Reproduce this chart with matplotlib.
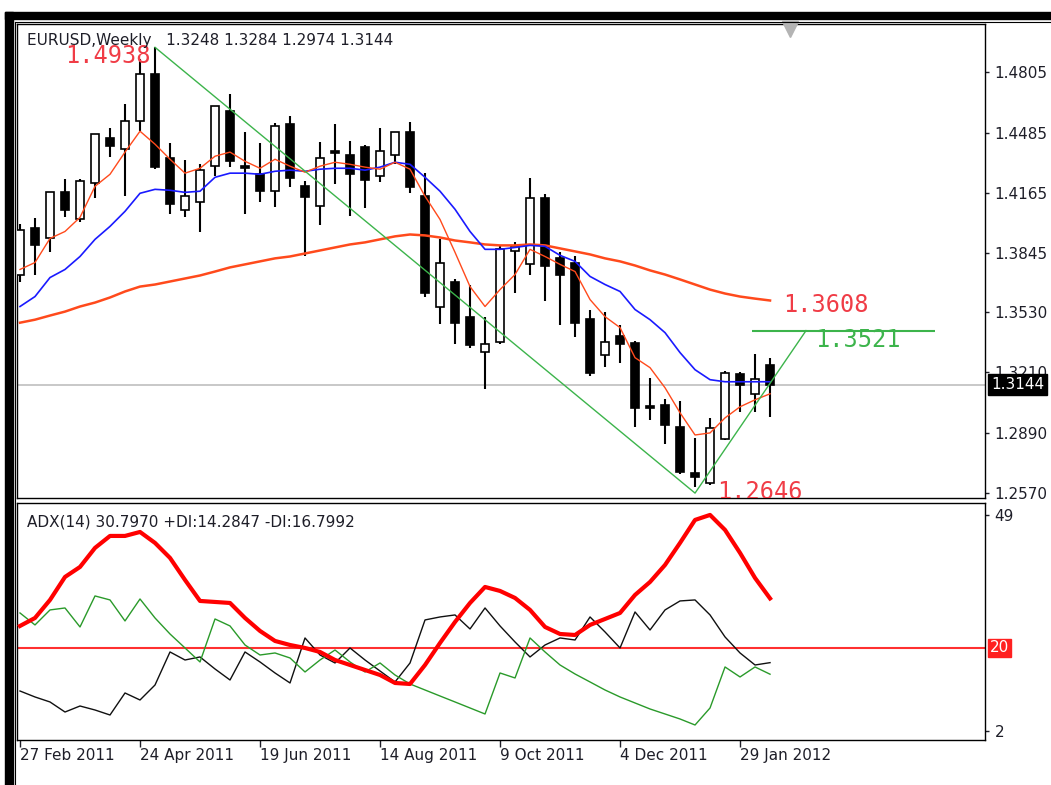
import matplotlib
matplotlib.use('Agg')
import matplotlib.pyplot as plt
import matplotlib.transforms as mtransforms
from matplotlib.patches import Rectangle
from matplotlib.lines import Line2D
import numpy as np

# EURUSD weekly bars, first bar = week of 27 Feb 2011
opens = [1.3725, 1.3975, 1.3922, 1.4167, 1.4023, 1.4215, 1.4455, 1.4397, 1.4546, 1.4796,
         1.4348, 1.4071, 1.4114, 1.4306, 1.4599, 1.4306, 1.4263, 1.4173, 1.4530, 1.4199,
         1.4093, 1.4386, 1.4365, 1.4407, 1.4253, 1.4365, 1.4487, 1.4146, 1.3560, 1.3693,
         1.3506, 1.3320, 1.3373, 1.3853, 1.3784, 1.4135, 1.3816, 1.3794, 1.3496, 1.3304,
         1.3405, 1.3368, 1.3032, 1.3037, 1.2920, 1.2675, 1.2622, 1.2856, 1.3203, 1.3096,
         1.3248]
highs = [1.3997, 1.4029, 1.4167, 1.4237, 1.4237, 1.4476, 1.4508, 1.4636, 1.4876, 1.4938,
         1.4428, 1.4338, 1.4316, 1.4626, 1.4690, 1.4487, 1.4428, 1.4535, 1.4572, 1.4226,
         1.4434, 1.4530, 1.4439, 1.4418, 1.4508, 1.4487, 1.4540, 1.4269, 1.3917, 1.3704,
         1.3677, 1.3506, 1.3880, 1.3901, 1.4242, 1.4157, 1.3848, 1.3826, 1.3544, 1.3533,
         1.3464, 1.3378, 1.3181, 1.3069, 1.3059, 1.2862, 1.2968, 1.3219, 1.3213, 1.3309,
         1.3284]
lows = [1.3693, 1.3730, 1.3848, 1.4034, 1.4007, 1.4135, 1.4354, 1.4146, 1.4492, 1.4290,
        1.4050, 1.4034, 1.3954, 1.4253, 1.4301, 1.4050, 1.4114, 1.4087, 1.4194, 1.3826,
        1.3991, 1.4210, 1.4039, 1.4082, 1.4221, 1.4316, 1.4162, 1.3613, 1.3469, 1.3362,
        1.3341, 1.3123, 1.3362, 1.3634, 1.3725, 1.3592, 1.3464, 1.3400, 1.3192, 1.3240,
        1.3261, 1.2920, 1.2957, 1.2829, 1.2670, 1.2600, 1.2611, 1.2851, 1.3000, 1.3000,
        1.2974]
closes = [1.3965, 1.3885, 1.4167, 1.4071, 1.4226, 1.4476, 1.4412, 1.4546, 1.4796, 1.4301,
          1.4103, 1.4146, 1.4285, 1.4626, 1.4332, 1.4295, 1.4173, 1.4519, 1.4242, 1.4141,
          1.4348, 1.4375, 1.4263, 1.4231, 1.4386, 1.4487, 1.4194, 1.3634, 1.3789, 1.3474,
          1.3357, 1.3362, 1.3864, 1.3880, 1.4135, 1.3773, 1.3730, 1.3474, 1.3208, 1.3373,
          1.3362, 1.3021, 1.3021, 1.2931, 1.2680, 1.2654, 1.2915, 1.3208, 1.3144, 1.3176,
          1.3144]

# moving averages (fast / medium / slow)
ma_fast = [1.3757, 1.3794, 1.3922, 1.3959, 1.4034, 1.4199, 1.4263, 1.4381, 1.4492, 1.4423,
           1.4343, 1.4269, 1.4295, 1.4359, 1.4381, 1.4332, 1.4295, 1.4343, 1.4306, 1.4274,
           1.4306, 1.4327, 1.4316, 1.4301, 1.4290, 1.4327, 1.4290, 1.4146, 1.4023, 1.3848,
           1.3666, 1.3560, 1.3650, 1.3730, 1.3864, 1.3826, 1.3784, 1.3746, 1.3597, 1.3506,
           1.3448, 1.3288, 1.3235, 1.3128, 1.2995, 1.2877, 1.2888, 1.2968, 1.3027, 1.3064,
           1.3096]
ma_mid = [1.3560, 1.3613, 1.3714, 1.3757, 1.3826, 1.3917, 1.3986, 1.4066, 1.4162, 1.4183,
          1.4178, 1.4167, 1.4173, 1.4247, 1.4269, 1.4269, 1.4263, 1.4279, 1.4285, 1.4279,
          1.4290, 1.4295, 1.4295, 1.4285, 1.4301, 1.4327, 1.4316, 1.4247, 1.4173, 1.4077,
          1.3959, 1.3864, 1.3864, 1.3874, 1.3885, 1.3880, 1.3832, 1.3800, 1.3720, 1.3677,
          1.3640, 1.3544, 1.3490, 1.3421, 1.3315, 1.3224, 1.3171, 1.3160, 1.3160, 1.3160,
          1.3160]
ma_slow = [1.3474, 1.3490, 1.3512, 1.3533, 1.3560, 1.3581, 1.3608, 1.3640, 1.3666, 1.3677,
           1.3693, 1.3709, 1.3725, 1.3746, 1.3768, 1.3784, 1.3800, 1.3816, 1.3826, 1.3842,
           1.3858, 1.3874, 1.3890, 1.3901, 1.3917, 1.3933, 1.3943, 1.3938, 1.3927, 1.3911,
           1.3901, 1.3890, 1.3885, 1.3885, 1.3890, 1.3885, 1.3869, 1.3853, 1.3837, 1.3816,
           1.3800, 1.3778, 1.3752, 1.3730, 1.3704, 1.3677, 1.3650, 1.3629, 1.3613, 1.3602,
           1.3592]

# ADX(14)
adx_main = [24.80, 26.54, 30.47, 35.48, 37.66, 41.81, 44.42, 44.42, 45.29, 42.90,
            39.63, 34.83, 30.25, 30.03, 29.81, 26.54, 23.71, 21.53, 20.65, 20.00,
            19.13, 17.38, 16.29, 15.20, 14.11, 12.37, 12.15, 16.29, 21.09, 25.67,
            29.81, 33.30, 32.43, 30.90, 28.29, 24.58, 23.05, 22.83, 25.02, 26.32,
            27.63, 31.56, 34.39, 38.10, 42.90, 47.91, 49.00, 45.73, 40.72, 35.26,
            30.80]
plus_di = [27.63, 25.02, 28.29, 28.72, 24.58, 31.34, 30.47, 25.89, 30.68, 26.54,
           23.05, 20.00, 16.95, 26.32, 24.80, 20.65, 18.47, 18.91, 17.82, 14.77,
           17.38, 19.56, 16.95, 14.77, 16.73, 14.11, 12.15, 10.84, 9.53, 8.23,
           6.92, 5.61, 14.55, 13.46, 22.18, 19.13, 16.29, 14.33, 12.59, 10.84,
           9.32, 8.01, 6.70, 5.61, 4.52, 3.21, 6.92, 15.86, 13.68, 15.86,
           14.28]
minus_di = [10.62, 9.32, 8.23, 6.04, 7.35, 6.48, 5.39, 10.19, 8.66, 11.93,
            19.13, 17.38, 18.04, 15.42, 13.02, 19.13, 16.95, 14.55, 12.37, 22.18,
            18.47, 16.73, 20.00, 17.38, 14.98, 12.59, 16.73, 26.11, 26.76, 27.20,
            24.14, 28.72, 24.80, 21.31, 18.04, 20.65, 22.18, 21.74, 26.76, 23.49,
            20.00, 27.85, 23.92, 28.29, 30.25, 30.47, 27.20, 22.40, 18.91, 16.29,
            16.80]
adx_level = 20

# zigzag swings and target line
zz_bars = [9, 45, 52.4]
zz_prices = [1.4938, 1.2568, 1.3432]
target_price = 1.3432
target_from, target_to = 48.8, 61.0

# text labels drawn on the chart: (text, bar, price, colour)
red = '#f03c46'
green = '#3cb44b'
labels = [('1.4938', 3.0, 1.4892, red),
          ('1.3608', 50.9, 1.3570, red),
          ('1.3521', 53.0, 1.3384, green),
          ('1.2646', 46.5, 1.2574, red)]

date_ticks = [0, 8, 16, 24, 32, 40, 48]
date_labels = ['27 Feb 2011', '24 Apr 2011', '19 Jun 2011', '14 Aug 2011',
               '9 Oct 2011', '4 Dec 2011', '29 Jan 2012']
price_ticks = [1.4805, 1.4485, 1.4165, 1.3845, 1.3530, 1.3210, 1.2890, 1.2570]
last_price = 1.3144

plt.rcParams['font.family'] = ['DejaVu Sans']
plt.rcParams['font.size'] = 11
txt_col = '#1e1e28'

W, H = 1051, 785
fig = plt.figure(figsize=(W / 100, H / 100), dpi=100)
fig.patch.set_facecolor('white')

ax = fig.add_axes([17 / W, 1 - 498 / H, 968 / W, 474 / H])
adx = fig.add_axes([17 / W, 1 - 740 / H, 968 / W, 237 / H], sharex=ax)

x = np.arange(len(opens))
o = np.array(opens)
c = np.array(closes)
up = c >= o

# price panel
ax.axhline(last_price, color='#c8c8c8', lw=1.4, zorder=1)
ax.vlines(x, lows, highs, color='black', lw=1.5, zorder=2)
body_h = np.maximum(np.abs(c - o), 0.0004)
ax.bar(x, body_h, bottom=np.minimum(o, c), width=0.55,
       color=np.where(up, 'white', 'black'), edgecolor='black', linewidth=1.2, zorder=3)

ax.plot(x, ma_slow, color='#ff4a1c', lw=1.8, zorder=4)
ax.plot(x, ma_mid, color='#1a1aff', lw=1.2, zorder=4)
ax.plot(x, ma_fast, color='#ff4a1c', lw=1.0, zorder=4)

ax.plot(zz_bars, zz_prices, color=green, lw=1.0, zorder=5)
ax.hlines(target_price, target_from, target_to, color=green, lw=1.5, zorder=5)

for s, bx, py, col in labels:
    ax.text(bx, py, s, color=col, family='DejaVu Sans Mono', fontsize=17,
            ha='left', va='center', zorder=6, clip_on=True)

ax.text(10 / 968, (498 - 40) / 474, 'EURUSD,Weekly   1.3248 1.3284 1.2974 1.3144',
        transform=ax.transAxes, color=txt_col, ha='left', va='center', zorder=7)

# chart shift marker
trans = mtransforms.blended_transform_factory(ax.transData, ax.transAxes)
ax.plot([51.3], [0.99], marker='v', ms=11, color='#b4b4b4', transform=trans,
        clip_on=False, zorder=7)

ax.set_xlim(-0.2, 64.33)
ax.set_ylim(1.2542, 1.5062)
ax.yaxis.tick_right()
ax.set_yticks(price_ticks)
ax.set_yticklabels(['%.4f' % p for p in price_ticks])
ax.tick_params(axis='y', direction='out', length=3, width=1, pad=4, colors=txt_col)
ax.tick_params(axis='x', bottom=False, labelbottom=False)

ytrans = mtransforms.blended_transform_factory(ax.transAxes, ax.transData)
ax.text((991 - 17) / 968, last_price, '%.4f' % last_price, transform=ytrans, color='white',
        ha='left', va='center', zorder=8, clip_on=False,
        bbox=dict(boxstyle='square,pad=0.2', fc='black', ec='black'))

# ADX panel
adx.axhline(adx_level, color='#ff3030', lw=1.5, zorder=1)
adx.plot(x, minus_di, color='#101010', lw=1.0, zorder=3)
adx.plot(x, plus_di, color='#2a9a2a', lw=1.0, zorder=3)
adx.plot(x, adx_main, color='#ff0000', lw=3.0, zorder=4)

adx.text(10 / 968, (740 - 522) / 237, 'ADX(14) 30.7970 +DI:14.2847 -DI:16.7992',
         transform=adx.transAxes, color=txt_col, ha='left', va='center')

adx.set_ylim(-0.06, 51.6)
adx.yaxis.tick_right()
adx.set_yticks([2, 49])
adx.set_yticklabels(['2', '49'])
adx.tick_params(axis='y', direction='out', length=3, width=1, pad=4, colors=txt_col)

atrans = mtransforms.blended_transform_factory(adx.transAxes, adx.transData)
adx.text((990 - 17) / 968, adx_level, str(adx_level), transform=atrans, color='white',
         ha='left', va='center', zorder=8, clip_on=False,
         bbox=dict(boxstyle='square,pad=0.1', fc='#ff2020', ec='#ff2020'))

adx.set_xticks(date_ticks)
adx.set_xticklabels(date_labels)
for lab in adx.get_xticklabels():
    lab.set_horizontalalignment('left')
adx.tick_params(axis='x', direction='out', length=5, width=1, pad=1, colors=txt_col)

for a in (ax, adx):
    for sp in a.spines.values():
        sp.set_color('black')
        sp.set_linewidth(1.0)

# window frame
fig.patches.append(Rectangle((5 / W, 0), 8 / W, (H - 12) / H, transform=fig.transFigure,
                             color='black', zorder=0))
fig.patches.append(Rectangle((5 / W, 1 - 19 / H), (W - 5) / W, 7 / H,
                             transform=fig.transFigure, color='black', zorder=0))
fig.add_artist(Line2D([15 / W, 15 / W], [0, 1 - 21.5 / H], color='black', lw=0.8))
fig.add_artist(Line2D([15 / W, 1], [1 - 21.5 / H, 1 - 21.5 / H], color='black', lw=0.8))

fig.savefig('out.png', dpi=100)
